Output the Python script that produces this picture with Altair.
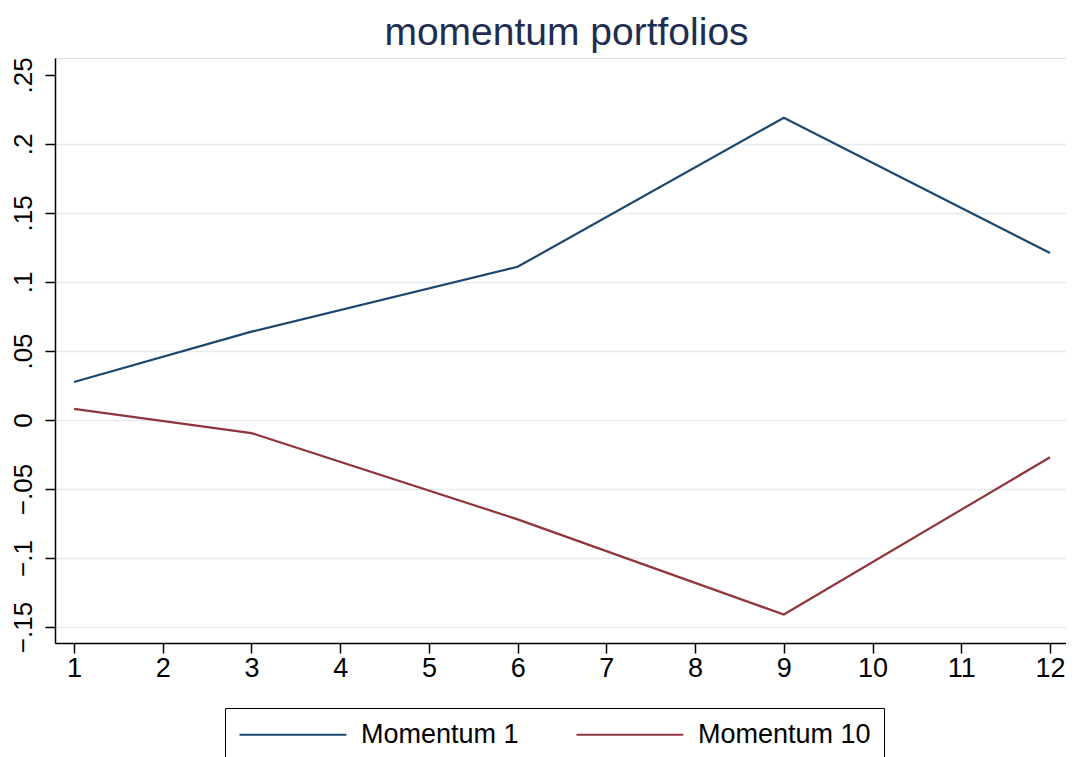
import altair as alt
import pandas as pd

months = [1, 3, 6, 9, 12]
mom1 = [0.0275, 0.064, 0.111, 0.219, 0.121]
mom10 = [0.008, -0.0095, -0.072, -0.141, -0.027]
series_names = ["Momentum 1", "Momentum 10"]
series_colors = ["#1a476f", "#90353b"]
x_ticks = list(range(1, 13))
y_ticks = [-0.15, -0.1, -0.05, 0, 0.05, 0.1, 0.15, 0.2, 0.25]

df = pd.DataFrame({
    "month": months * 2,
    "value": mom1 + mom10,
    "series": [series_names[0]] * len(months) + [series_names[1]] * len(months),
})

FONT = "Liberation Sans"

chart = alt.Chart(df).mark_line(strokeWidth=2.2).encode(
    x=alt.X("month:Q",
            scale=alt.Scale(domain=[0.786, 12.18], nice=False, zero=False),
            axis=alt.Axis(values=x_ticks, title=None, grid=False,
                          labelFontSize=27, tickSize=10, labelPadding=2,
                          tickColor="black", domainColor="black",
                          domainWidth=1.5, tickWidth=1.5,
                          labelColor="black", labelFont=FONT)),
    y=alt.Y("value:Q",
            scale=alt.Scale(domain=[-0.1616, 0.2623], nice=False, zero=False),
            axis=alt.Axis(values=y_ticks, title=None, grid=True,
                          gridColor="#e6ecee", gridWidth=1.5,
                          gridOpacity={"condition": {"test": "datum.value > 0.24", "value": 0}, "value": 1},
                          labelExpr="datum.value == 0 ? '0' : replace(format(datum.value, '.2~f'), '0.', '.')",
                          labelAngle=270, labelAlign="center", labelBaseline="bottom",
                          labelFontSize=26, tickSize=10, labelPadding=9,
                          tickColor="black", domainColor="black",
                          domainWidth=1.5, tickWidth=1.5,
                          labelColor="black", labelFont=FONT)),
    color=alt.Color("series:N",
                    scale=alt.Scale(domain=series_names, range=series_colors),
                    legend=alt.Legend(title=None, orient="none",
                                      legendX=170, legendY=650,
                                      direction="horizontal",
                                      symbolType="M-1,0H7.9", symbolSize=576,
                                      symbolStrokeWidth=2.2,
                                      labelFontSize=27, labelFont=FONT,
                                      labelColor="black", labelOffset=96,
                                      labelLimit=400,
                                      columnPadding=53, padding=13,
                                      strokeColor="black", fillColor="white")),
).properties(
    width=1011,
    height=585,
    padding={"left": 47, "top": 50, "right": 0, "bottom": 114},
    autosize=alt.AutoSizeParams(type="none"),
    title=alt.TitleParams("momentum portfolios", fontSize=39, font=FONT,
                          fontWeight="normal", color="#1e2d50",
                          anchor="middle", baseline="alphabetic",
                          frame="group", offset=13, dx=6, dy=40),
).configure_view(stroke=None).configure(background="white")

chart.save("out.html", embed_options={"renderer": "svg", "actions": False})
